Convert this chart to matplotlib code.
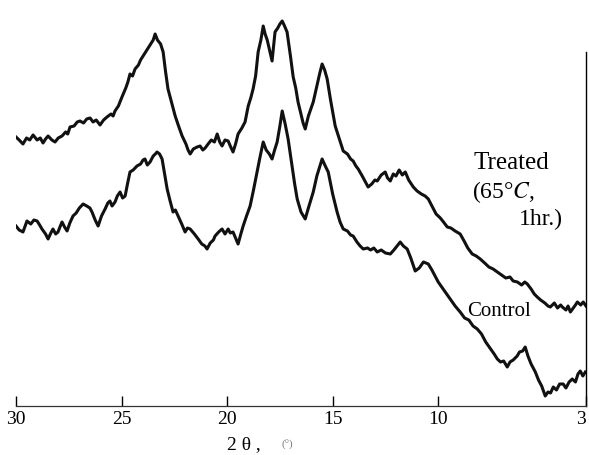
import matplotlib
matplotlib.use('Agg')
import matplotlib.pyplot as plt

# X-ray diffraction traces (intensity in arbitrary units)
two_theta_treated = [30.00, 29.85, 29.67, 29.50, 29.35, 29.19, 29.00, 28.85, 28.72, 28.60,
                     28.48, 28.30, 28.15, 28.00, 27.82, 27.65, 27.55, 27.44, 27.25, 27.10,
                     26.97, 26.80, 26.65, 26.49, 26.35, 26.20, 26.02, 25.85, 25.69, 25.50,
                     25.40, 25.31, 25.15, 24.98, 24.80, 24.70, 24.60, 24.48, 24.36, 24.20,
                     24.10, 23.98, 23.80, 23.65, 23.50, 23.41, 23.30, 23.15, 23.03, 22.92,
                     22.80, 22.65, 22.46, 22.30, 22.13, 21.95, 21.85, 21.75, 21.60, 21.42,
                     21.28, 21.15, 21.04, 20.90, 20.75, 20.60, 20.47, 20.35, 20.24, 20.10,
                     19.95, 19.85, 19.72, 19.60, 19.48, 19.30, 19.15, 19.00, 18.88, 18.77,
                     18.65, 18.53, 18.40, 18.29, 18.20, 18.10, 17.98, 17.87, 17.80, 17.73,
                     17.60, 17.50, 17.39, 17.28, 17.16, 17.00, 16.87, 16.75, 16.64, 16.50,
                     16.40, 16.30, 16.15, 15.92, 15.75, 15.62, 15.50, 15.38, 15.26, 15.10,
                     14.98, 14.88, 14.70, 14.50, 14.30, 14.15, 14.03, 13.90, 13.79, 13.60,
                     13.45, 13.32, 13.15, 13.00, 12.89, 12.70, 12.51, 12.40, 12.27, 12.13,
                     12.00, 11.85, 11.70, 11.56, 11.40, 11.18, 11.00, 10.80, 10.62, 10.47,
                     10.30, 10.10, 9.90, 9.75, 9.57, 9.40, 9.20, 8.96, 8.80, 8.60,
                     8.39, 8.20, 8.01, 7.80, 7.60, 7.40, 7.20, 7.00, 6.80, 6.60,
                     6.45, 6.25, 6.05, 5.90, 5.78, 5.60, 5.45, 5.31, 5.15, 4.95,
                     4.80, 4.69, 4.50, 4.35, 4.20, 4.12, 3.95, 3.85, 3.74, 3.60,
                     3.50, 3.41, 3.25, 3.13, 3.00]
treated = [269, 266, 262, 268, 266, 271, 266, 268, 263, 267,
           270, 266, 264, 268, 270, 274, 272, 279, 280, 284,
           285, 283, 287, 288, 284, 286, 281, 286, 289, 292,
           290, 295, 300, 309, 318, 324, 332, 330, 337, 341,
           346, 350, 356, 361, 366, 372, 366, 362, 354, 335,
           317, 305, 290, 280, 270, 262, 256, 252, 257, 259,
           260, 256, 258, 262, 266, 264, 272, 264, 260, 266,
           265, 260, 254, 262, 272, 278, 284, 300, 308, 317,
           330, 354, 366, 380, 372, 366, 355, 345, 360, 374,
           378, 382, 385, 380, 374, 350, 329, 318, 304, 292,
           283, 277, 290, 304, 320, 332, 342, 336, 327, 306,
           292, 280, 268, 255, 252, 247, 245, 240, 237, 230,
           224, 219, 222, 226, 225, 231, 234, 228, 225, 232,
           230, 236, 231, 234, 226, 219, 215, 212, 210, 207,
           200, 192, 188, 184, 179, 178, 175, 172, 166, 158,
           152, 150, 147, 143, 139, 137, 134, 131, 128, 129,
           125, 124, 121, 124, 122, 117, 112, 109, 106, 103,
           100, 99, 103, 98, 101, 99, 96, 100, 94, 98,
           101, 104, 101, 104, 100]

two_theta_control = [30.00, 29.85, 29.67, 29.55, 29.48, 29.30, 29.15, 29.00, 28.88, 28.77,
                     28.60, 28.48, 28.35, 28.25, 28.12, 28.01, 27.90, 27.82, 27.70, 27.58,
                     27.45, 27.30, 27.15, 27.00, 26.82, 26.65, 26.50, 26.40, 26.25, 26.11,
                     25.95, 25.78, 25.65, 25.55, 25.45, 25.31, 25.20, 25.07, 24.95, 24.83,
                     24.72, 24.60, 24.45, 24.27, 24.10, 23.98, 23.89, 23.78, 23.65, 23.50,
                     23.40, 23.32, 23.20, 23.08, 22.96, 22.84, 22.70, 22.56, 22.45, 22.32,
                     22.15, 21.99, 21.88, 21.75, 21.55, 21.37, 21.20, 21.05, 20.95, 20.80,
                     20.65, 20.57, 20.40, 20.24, 20.10, 19.95, 19.85, 19.72, 19.60, 19.48,
                     19.35, 19.24, 19.08, 18.91, 18.75, 18.58, 18.45, 18.29, 18.15, 18.00,
                     17.87, 17.75, 17.63, 17.50, 17.39, 17.25, 17.11, 16.95, 16.80, 16.68,
                     16.50, 16.30, 16.15, 15.92, 15.75, 15.60, 15.50, 15.35, 15.21, 15.00,
                     14.79, 14.65, 14.50, 14.30, 14.15, 14.03, 13.85, 13.70, 13.55, 13.35,
                     13.20, 13.05, 12.89, 12.70, 12.50, 12.27, 12.10, 11.95, 11.80, 11.65,
                     11.47, 11.30, 11.09, 10.90, 10.70, 10.47, 10.30, 10.15, 10.00, 9.80,
                     9.60, 9.40, 9.20, 8.96, 8.75, 8.55, 8.35, 8.15, 7.95, 7.75,
                     7.55, 7.35, 7.20, 7.05, 6.90, 6.73, 6.60, 6.45, 6.26, 6.15,
                     6.00, 5.88, 5.75, 5.60, 5.40, 5.25, 5.10, 4.93, 4.80, 4.68,
                     4.55, 4.40, 4.25, 4.08, 3.95, 3.80, 3.65, 3.50, 3.38, 3.27,
                     3.15, 3.03]
control = [180, 176, 174, 181, 185, 182, 186, 185, 181, 177,
           172, 167, 173, 177, 172, 174, 180, 184, 179, 175,
           183, 190, 193, 198, 202, 200, 198, 194, 186, 180,
           190, 197, 203, 205, 200, 204, 210, 214, 208, 210,
           222, 234, 236, 240, 242, 246, 247, 241, 244, 250,
           252, 254, 252, 247, 232, 217, 205, 194, 196, 190,
           182, 174, 178, 177, 172, 167, 162, 160, 157, 163,
           166, 170, 174, 177, 172, 177, 173, 174, 168, 162,
           172, 180, 190, 200, 216, 234, 248, 264, 256, 252,
           247, 256, 264, 280, 295, 282, 267, 244, 222, 207,
           194, 187, 198, 214, 230, 240, 247, 240, 234, 212,
           194, 184, 177, 175, 171, 170, 164, 160, 157, 158,
           156, 158, 154, 156, 153, 152, 156, 160, 164, 160,
           157, 148, 135, 138, 144, 142, 136, 130, 124, 118,
           112, 106, 100, 94, 88, 86, 80, 77, 72, 64,
           58, 52, 47, 44, 45, 39, 44, 46, 50, 54,
           55, 59, 50, 42, 34, 26, 20, 10, 14, 13,
           19, 16, 22, 22, 18, 24, 27, 24, 32, 35,
           30, 34]

tick_pos = [30, 25, 20, 15, 10, 3]
tick_labels = ['30', '25', '20', '15', '10', '3']

plt.rcParams['font.family'] = ['Liberation Serif', 'DejaVu Serif']
plt.rcParams['mathtext.fontset'] = 'stix'

fig = plt.figure(figsize=(5.89, 4.56), dpi=100)
ax = fig.add_axes([16 / 589, 49 / 456, 570 / 589, 407 / 456])

ax.plot(two_theta_treated, treated, color='#111111', lw=2.2)
ax.plot(two_theta_control, control, color='#111111', lw=2.2)

ax.set_xlim(30, 3)
ax.set_ylim(0, 407)

ax.spines['top'].set_visible(False)
ax.spines['left'].set_visible(False)
ax.spines['bottom'].set_linewidth(0.9)
ax.spines['bottom'].set_color('#333333')
ax.spines['right'].set_linewidth(1.0)
ax.spines['right'].set_bounds(0, 354)

ax.set_xticks(tick_pos)
ax.set_xticklabels(tick_labels)
ax.get_xticklabels()[-1].set_horizontalalignment('right')
ax.set_yticks([])
ax.tick_params(axis='x', direction='in', length=7, width=1, pad=3, labelsize=14)

ax.text(8.34, 244, 'Treated', fontsize=18, va='center', ha='left')
ax.text(8.39, 215, '(65°$\\mathit{C}$,', fontsize=17, va='center', ha='left')
ax.text(4.08, 188, '1hr.)', fontsize=17, va='center', ha='right')
ax.text(8.63, 95, 'Control', fontsize=15, va='center', ha='left')

fig.text(227 / 589, 11 / 456, '2 θ ,', fontsize=14, va='center', ha='left')
fig.text(282 / 589, 11 / 456, '(°)', fontsize=8, color='#777777', va='center', ha='left')

plt.savefig('out.png', dpi=100)
